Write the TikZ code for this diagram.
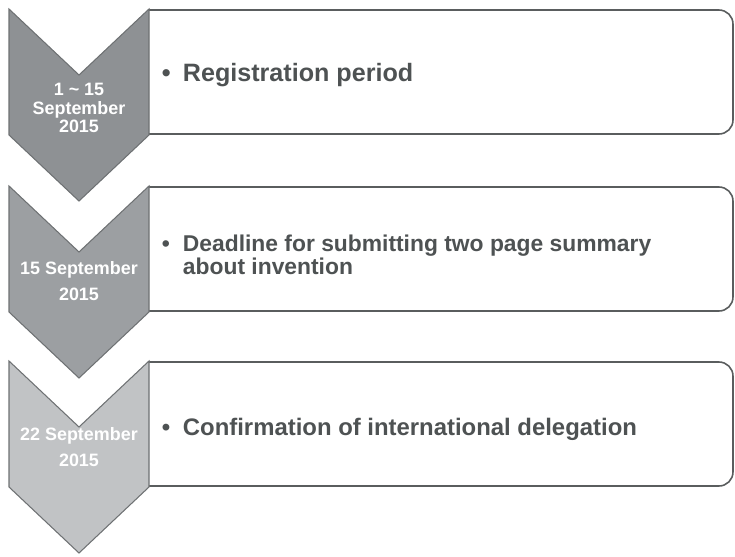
\documentclass[tikz,border=0pt]{standalone}
\usepackage{fontspec}
\setmainfont{Liberation Sans}
\usepackage{tikz}
\usetikzlibrary{positioning}
\tikzset{chev/.style = {draw = cline, line width = 0.6pt, line join = miter}}
\tikzset{panel/.style = {draw = bline, line width = 0.9pt, fill = white, rounded corners = 8pt}}
\tikzset{datetext/.style = {text = white, font = \bfseries\fontsize{10.2}{10.4}\selectfont, align = center, inner sep = 0}}
\tikzset{itemtext/.style = {text = tgray, font = \bfseries\fontsize{#1}{13.4}\selectfont, anchor = west, inner sep = 0}}
\newcommand{\itm}[1]{\makebox[14pt][l]{\hspace{2pt}\textbullet}#1}
\definecolor{cone}{HTML}{8E9194}
\definecolor{ctwo}{HTML}{9C9FA2}
\definecolor{cthree}{HTML}{C1C3C5}
\definecolor{cline}{HTML}{6E7173}
\definecolor{bline}{HTML}{5A5D5E}
\definecolor{tgray}{HTML}{4E5253}

\begin{document}
\begin{tikzpicture}[x = 0.02cm, y = -0.02cm]
      \useasboundingbox (0, 0) rectangle (735, 556);

      \draw [panel] (149, 10) -- (733, 10) -- (733, 134) -- (149, 134);
      \draw [chev, fill = cone] (9, 9) -- (79, 75) -- (149, 9) -- (149, 135) -- (79, 201) -- (9, 135) -- cycle;
      \node [datetext] (date1) at (79, 108) {1 \textasciitilde\ 15\\September\\2015};
      \node [itemtext = 14.3] (item1) at (158, 75) {\itm{Registration period}};

      \draw [panel] (149, 187) -- (733, 187) -- (733, 311) -- (149, 311);
      \draw [chev, fill = ctwo] (9, 186) -- (79, 252) -- (149, 186) -- (149, 312) -- (79, 378) -- (9, 312) -- cycle;
      \node [datetext] (date2) at (79, 281) {15 September\\[4pt]2015};
      \node [itemtext = 13, align = left] (item2) at (158, 255) {\itm{Deadline for submitting two page summary}\\\hspace*{14pt}about invention};

      \draw [panel] (149, 362) -- (733, 362) -- (733, 486) -- (149, 486);
      \draw [chev, fill = cthree] (9, 361) -- (79, 427) -- (149, 361) -- (149, 487) -- (79, 553) -- (9, 487) -- cycle;
      \node [datetext] (date3) at (79, 447) {22 September\\[4pt]2015};
      \node [itemtext = 13.6] (item3) at (158, 429) {\itm{Confirmation of international delegation}};
\end{tikzpicture}
\end{document}
